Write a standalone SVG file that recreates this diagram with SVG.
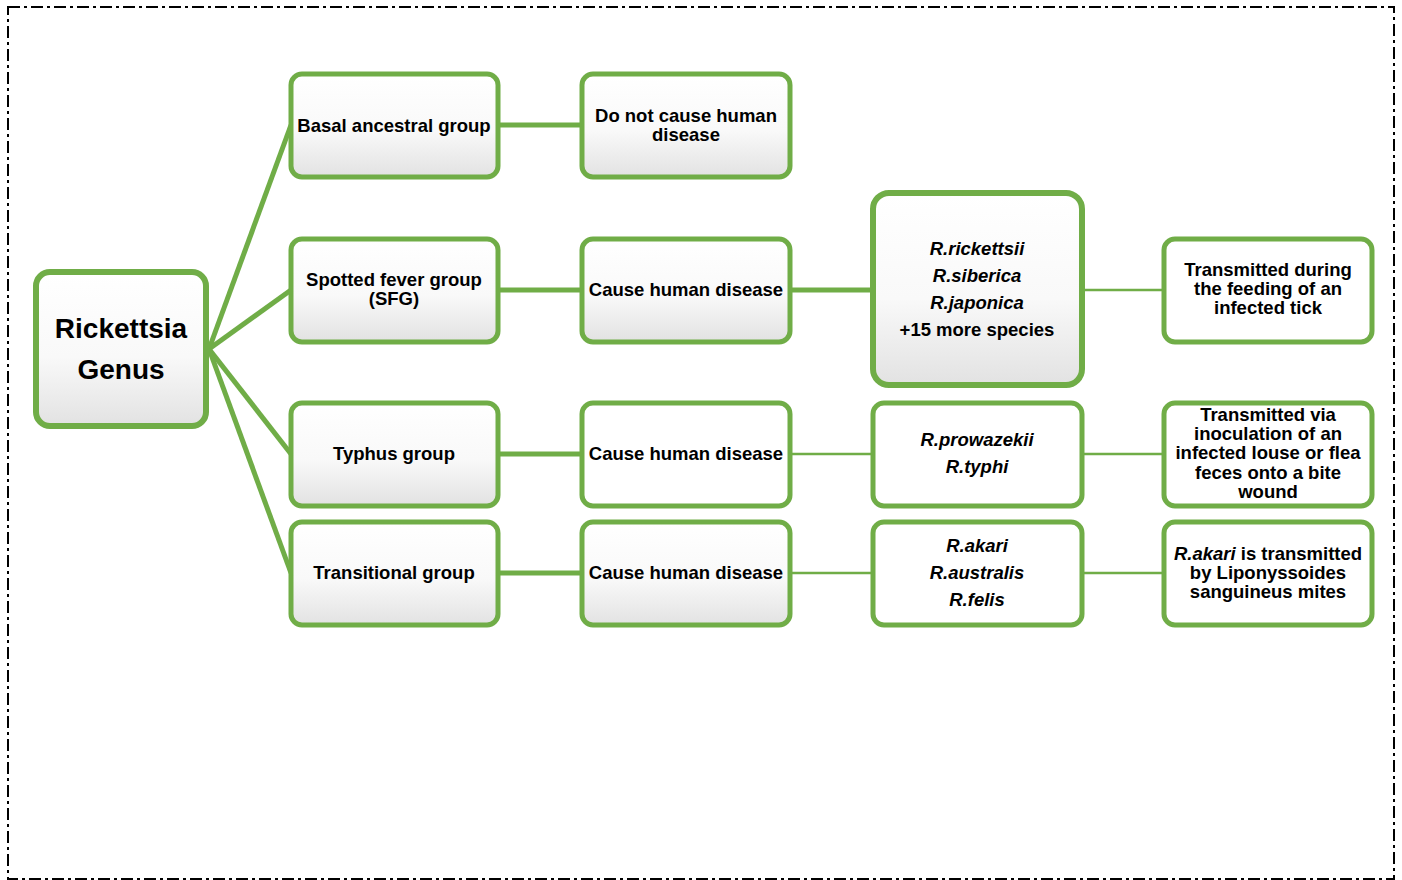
<svg xmlns="http://www.w3.org/2000/svg" width="1402" height="880" viewBox="0 0 1402 880">
<defs>
<linearGradient id="g" x1="0" y1="0" x2="0" y2="1">
<stop offset="0" stop-color="#ffffff"/>
<stop offset="0.55" stop-color="#f9f9f9"/>
<stop offset="1" stop-color="#e2e2e2"/>
</linearGradient>
<style>
.box{stroke:#70ad47;stroke-width:5;fill:url(#g)}
.wb{stroke:#70ad47;stroke-width:5;fill:#ffffff}
.t{font-family:"Liberation Sans",Arial,sans-serif;font-weight:bold;font-size:18.5px;fill:#000;text-anchor:middle}
.i{font-style:italic}
.thick{stroke:#70ad47;stroke-width:5;fill:none}
.thin{stroke:#70ad47;stroke-width:2.5;fill:none}
</style>
</defs>
<rect x="8" y="7" width="1386" height="872" fill="none" stroke="#000" stroke-width="2" stroke-dasharray="12 4 3 4"/>
<g id="connectors">
<line class="thick" x1="209" y1="349" x2="291" y2="125"/>
<line class="thick" x1="209" y1="349" x2="291" y2="290"/>
<line class="thick" x1="209" y1="349" x2="291" y2="454"/>
<line class="thick" x1="209" y1="349" x2="291" y2="573"/>
<line class="thick" x1="498" y1="125" x2="582" y2="125"/>
<line class="thick" x1="498" y1="290" x2="582" y2="290"/>
<line class="thick" x1="498" y1="454" x2="582" y2="454"/>
<line class="thick" x1="498" y1="573" x2="582" y2="573"/>
<line class="thick" x1="790" y1="290" x2="873" y2="290"/>
<line class="thin" x1="790" y1="454" x2="873" y2="454"/>
<line class="thin" x1="790" y1="573" x2="873" y2="573"/>
<line class="thin" x1="1082" y1="290" x2="1164" y2="290"/>
<line class="thin" x1="1082" y1="454" x2="1164" y2="454"/>
<line class="thin" x1="1082" y1="573" x2="1164" y2="573"/>
</g>
<g id="root">
<rect class="box" x="36" y="272" width="170" height="154" rx="14" style="stroke-width:6"/>
<text class="t" x="121" y="338" style="font-size:28px">Rickettsia</text>
<text class="t" x="121" y="379" style="font-size:28px">Genus</text>
</g>
<g id="basal">
<rect class="box" x="291" y="74" width="207" height="103" rx="11"/>
<text class="t" x="394" y="132">Basal ancestral group</text>
</g>
<g id="sfg">
<rect class="box" x="291" y="239" width="207" height="103" rx="11"/>
<text class="t" x="394" y="286">Spotted fever group</text>
<text class="t" x="394" y="305">(SFG)</text>
</g>
<g id="typhus">
<rect class="box" x="291" y="403" width="207" height="103" rx="11"/>
<text class="t" x="394" y="460">Typhus group</text>
</g>
<g id="transitional">
<rect class="box" x="291" y="522" width="207" height="103" rx="11"/>
<text class="t" x="394" y="579">Transitional group</text>
</g>
<g id="nodisease">
<rect class="box" x="582" y="74" width="208" height="103" rx="11"/>
<text class="t" x="686" y="122">Do not cause human</text>
<text class="t" x="686" y="141">disease</text>
</g>
<g id="disease2">
<rect class="box" x="582" y="239" width="208" height="103" rx="11"/>
<text class="t" x="686" y="296">Cause human disease</text>
</g>
<g id="disease3">
<rect class="wb" x="582" y="403" width="208" height="103" rx="11"/>
<text class="t" x="686" y="460">Cause human disease</text>
</g>
<g id="disease4">
<rect class="box" x="582" y="522" width="208" height="103" rx="11"/>
<text class="t" x="686" y="579">Cause human disease</text>
</g>
<g id="sfgspecies">
<rect class="box" x="873" y="193" width="209" height="192" rx="16" style="stroke-width:6"/>
<text class="t i" x="977" y="255">R.rickettsii</text>
<text class="t i" x="977" y="282">R.siberica</text>
<text class="t i" x="977" y="309">R.japonica</text>
<text class="t" x="977" y="336">+15 more species</text>
</g>
<g id="typhusspecies">
<rect class="wb" x="873" y="403" width="209" height="103" rx="11"/>
<text class="t i" x="977" y="446">R.prowazekii</text>
<text class="t i" x="977" y="473">R.typhi</text>
</g>
<g id="transspecies">
<rect class="wb" x="873" y="522" width="209" height="103" rx="11"/>
<text class="t i" x="977" y="552">R.akari</text>
<text class="t i" x="977" y="579">R.australis</text>
<text class="t i" x="977" y="606">R.felis</text>
</g>
<g id="tick">
<rect class="wb" x="1164" y="239" width="208" height="103" rx="11"/>
<text class="t" x="1268" y="276">Transmitted during</text>
<text class="t" x="1268" y="295">the feeding of an</text>
<text class="t" x="1268" y="314">infected tick</text>
</g>
<g id="louse">
<rect class="wb" x="1164" y="403" width="208" height="103" rx="11"/>
<text class="t" x="1268" y="421">Transmitted via</text>
<text class="t" x="1268" y="440">inoculation of an</text>
<text class="t" x="1268" y="459">infected louse or flea</text>
<text class="t" x="1268" y="479">feces onto a bite</text>
<text class="t" x="1268" y="498">wound</text>
</g>
<g id="mites">
<rect class="wb" x="1164" y="522" width="208" height="103" rx="11"/>
<text class="t" x="1268" y="560"><tspan class="i">R.akari</tspan> is transmitted</text>
<text class="t" x="1268" y="579">by Liponyssoides</text>
<text class="t" x="1268" y="598">sanguineus mites</text>
</g>
</svg>
